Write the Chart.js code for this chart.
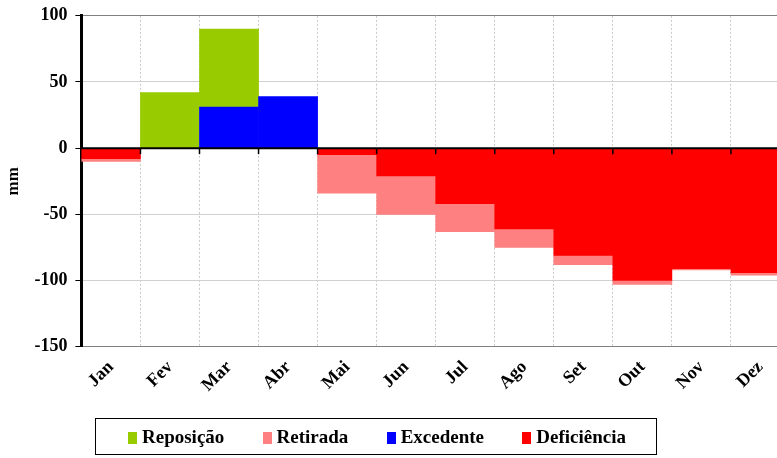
<!DOCTYPE html>
<html>
<head>
<meta charset="utf-8">
<script src="https://cdn.jsdelivr.net/npm/chart.js@4.4.1/dist/chart.umd.min.js"></script>
<style>
  html, body { margin: 0; padding: 0; background: #fff; overflow: hidden; }
  #wrap { position: relative; width: 777px; height: 458px; overflow: hidden; }
  #chart { position: absolute; left: 0; top: -3px; }
  #legend {
    position: absolute; left: 95px; top: 418px; width: 562px; height: 37px;
    border: 1px solid #000; box-sizing: border-box; padding: 0 30px 0 32px;
    display: flex; align-items: center; justify-content: space-between;
    font: bold 19px "Liberation Serif", "Times New Roman", serif; color: #000;
  }
  #legend span.sw { display: inline-block; width: 9px; height: 12px; margin-right: 5px; vertical-align: -1px; }
</style>
</head>
<body>
<div id="wrap">
  <canvas id="chart" width="790" height="458"></canvas>
  <div id="legend"></div>
</div>
<script>
// meses
const months = ['Jan', 'Fev', 'Mar', 'Abr', 'Mai', 'Jun', 'Jul', 'Ago', 'Set', 'Out', 'Nov', 'Dez'];

// valores em mm; null = sem valor
const excedente   = [null, null, 31, 39, null, null, null, null, null, null, null, null];
const reposicao   = [null, 42, 59, null, null, null, null, null, null, null, null, null];
const deficiencia = [-8, null, null, null, -5, -21, -42, -61, -81, -100, -91, -94];
const retirada    = [-2, null, null, null, -29, -29, -21, -14, -7, -3, -1, -2];

const yTicks = [100, 50, 0, -50, -100, -150];

const colors = {
  'Reposição': '#99CC00',
  'Retirada': '#FF8080',
  'Excedente': '#0000FF',
  'Deficiência': '#FF0000'
};
const legendOrder = ['Reposição', 'Retirada', 'Excedente', 'Deficiência'];

// legenda em HTML (caixa com borda como no original)
const legendEl = document.getElementById('legend');
legendOrder.forEach(name => {
  const item = document.createElement('div');
  item.innerHTML = `<span class="sw" style="background:${colors[name]}"></span>${name}`;
  legendEl.appendChild(item);
});

const serif = '"Liberation Serif", "Times New Roman", serif';

// linha do zero com pequenos traços entre as categorias
const zeroLine = {
  id: 'zeroLine',
  afterDatasetsDraw(chart) {
    const { ctx, chartArea, scales } = chart;
    const y0 = scales.y.getPixelForValue(0);
    ctx.save();
    ctx.strokeStyle = '#000';
    ctx.lineWidth = 2;
    ctx.beginPath();
    ctx.moveTo(chartArea.left, y0);
    ctx.lineTo(chartArea.right, y0);
    ctx.stroke();
    ctx.lineWidth = 1.5;
    for (let i = 1; i < months.length; i++) {
      const xb = (scales.x.getPixelForValue(i - 1) + scales.x.getPixelForValue(i)) / 2;
      ctx.beginPath();
      ctx.moveTo(xb, y0);
      ctx.lineTo(xb, y0 + 6);
      ctx.stroke();
    }
    ctx.restore();
  }
};

const barOpts = { borderWidth: 0, barPercentage: 1.0, categoryPercentage: 1.0 };

new Chart(document.getElementById('chart').getContext('2d'), {
  type: 'bar',
  data: {
    labels: months,
    datasets: [
      { label: 'Excedente', data: excedente, backgroundColor: colors['Excedente'], ...barOpts },
      { label: 'Reposição', data: reposicao, backgroundColor: colors['Reposição'], ...barOpts },
      { label: 'Deficiência', data: deficiencia, backgroundColor: colors['Deficiência'], ...barOpts },
      { label: 'Retirada', data: retirada, backgroundColor: colors['Retirada'], ...barOpts }
    ]
  },
  options: {
    responsive: false,
    animation: false,
    layout: { padding: { left: 3, top: 1, right: 0, bottom: 49 } },
    plugins: {
      legend: { display: false },
      tooltip: { enabled: false }
    },
    scales: {
      x: {
        stacked: true,
        grid: { color: '#c8c8c8', lineWidth: 1, drawTicks: false, offset: true },
        border: { display: false, dash: [2, 2] },
        ticks: {
          color: '#000',
          font: { family: serif, size: 18, weight: 'bold' },
          maxRotation: 45, minRotation: 45, padding: 10
        }
      },
      y: {
        stacked: true,
        min: -150, max: 100,
        afterBuildTicks: axis => { axis.ticks = yTicks.map(v => ({ value: v })); },
        grid: {
          color: c => {
            const v = c.tick && c.tick.value;
            if (v === 100 || v === -150) return '#808080';
            if (v === 0) return 'rgba(0,0,0,0)';
            return '#d0d0d0';
          },
          tickColor: '#000',
          tickLength: 6,
          lineWidth: 1
        },
        border: { color: '#000', width: 3 },
        title: {
          display: true, text: 'mm', color: '#000',
          font: { family: serif, size: 17, weight: 'bold' },
          padding: { top: 0, bottom: 3 }
        },
        ticks: {
          color: '#000',
          font: { family: serif, size: 18, weight: 'bold' },
          padding: 8
        }
      }
    }
  },
  plugins: [zeroLine]
});
</script>
</body>
</html>
